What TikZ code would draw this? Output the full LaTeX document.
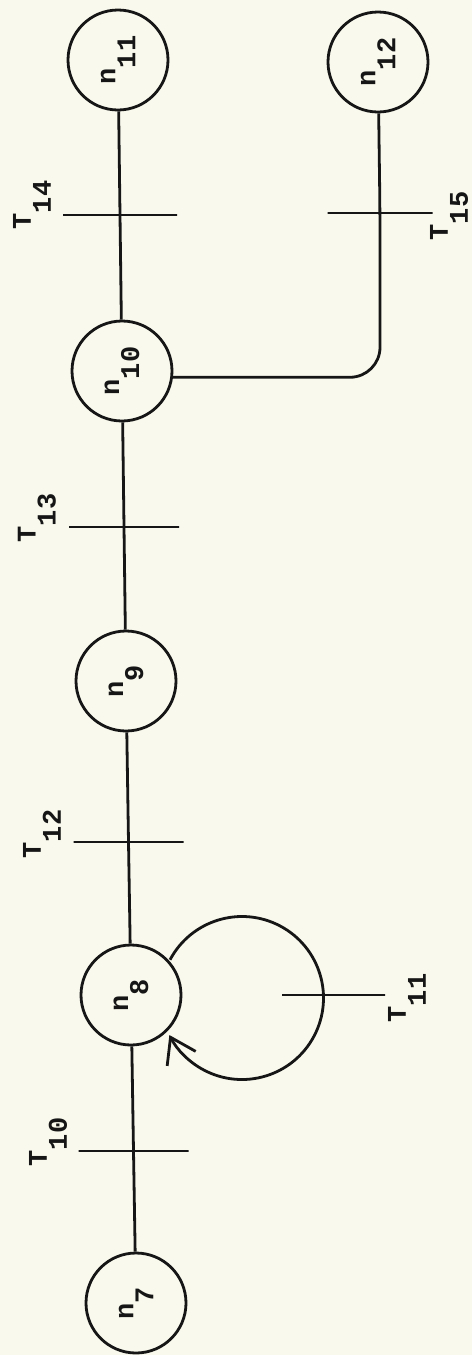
\documentclass[tikz,border=0pt]{standalone}
\usepackage{fontspec}
\usepackage{graphicx}
\newfontfamily\tw{Liberation Mono}
\usetikzlibrary{arrows.meta}
\definecolor{paper}{RGB}{249,249,237}
\definecolor{ink}{RGB}{22,22,22}
\newcommand{\sublbl}[2]{#1\raisebox{-20pt}{#2}}
\begin{document}
\begin{tikzpicture}[x=1pt,y=1pt,
  every node/.style={font=\tw\bfseries\fontsize{27}{27}\selectfont,text=ink},
  place/.style={circle,draw=ink,line width=2.8pt,minimum size=100pt,inner sep=0pt},
  tbar/.style={draw=ink,line width=2.8pt,rectangle,minimum height=0pt,inner sep=0pt,outer sep=0pt,minimum width=#1},
  wire/.style={draw=ink,line width=2.8pt},
  tlabel/.style={rotate=90,inner sep=0pt}]
\fill[paper] (0,0) rectangle (472,-1355);
\useasboundingbox (0,0) rectangle (472,-1355);

% places
\node[place] (n11) at (118,-60)   {\rotatebox{90}{\sublbl{n}{11}}};
\node[place] (n12) at (378,-62)   {\rotatebox{90}{\sublbl{n}{12}}};
\node[place] (n10) at (122,-371)  {\rotatebox{90}{\sublbl{n}{10}}};
\node[place] (n9)  at (126,-681)  {\rotatebox{90}{\sublbl{n}{9}}};
\node[place] (n8)  at (131,-995)  {\rotatebox{90}{\sublbl{n}{8}}};
\node[place] (n7)  at (136,-1303) {\rotatebox{90}{\sublbl{n}{7}}};

% transitions (bars)
\node[tbar=114pt] (t14) at (120,-215) {};
\node[tbar=105pt] (t15) at (380,-213) {};
\node[tbar=110pt] (t13) at (124,-527) {};
\node[tbar=110pt] (t12) at (128.5,-842) {};
\node[tbar=103pt] (t11) at (333.5,-995) {};
\node[tbar=110pt] (t10) at (133.5,-1151) {};

% transition labels
\node[tlabel] (l14) at (32,-205)  {\sublbl{T}{14}};
\node[tlabel] (l15) at (449,-216) {\sublbl{T}{15}};
\node[tlabel] (l13) at (37,-518)  {\sublbl{T}{13}};
\node[tlabel] (l12) at (42,-834)  {\sublbl{T}{12}};
\node[tlabel] (l11) at (407,-998) {\sublbl{T}{11}};
\node[tlabel] (l10) at (48,-1142) {\sublbl{T}{10}};

% arcs
\draw[wire] (n11) -- (t14.center) -- (n10);
\draw[wire] (n10) -- (t13.center) -- (n9);
\draw[wire] (n9) -- (t12.center) -- (n8);
\draw[wire] (n8) -- (t10.center) -- (n7);
\draw[wire,rounded corners=30pt] (n10.-7) -| (t15.center) -- (n12);

% self loop on n8
\coordinate (lc) at ([shift={(111,-3)}]n8.center);
\draw[wire,-{Straight Barb[length=24pt,width=32pt]}] ([shift={(152:81.5)}]lc) arc[start angle=152,end angle=-153,radius=81.5];
\end{tikzpicture}
\end{document}
